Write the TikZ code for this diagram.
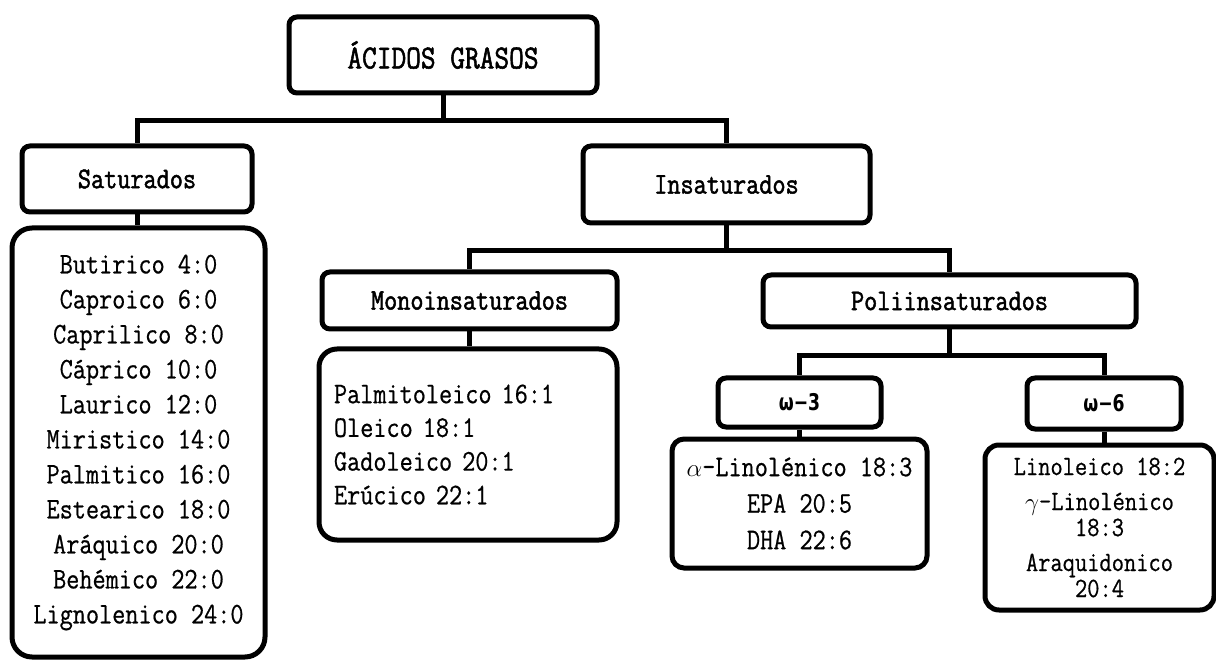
\documentclass[tikz,border=0pt]{standalone}
\usepackage{fontspec}
\newfontfamily\diagfont{Latin Modern Mono}[FakeStretch=0.85, FakeBold=0.6]
\newfontfamily\diagfontb{Latin Modern Mono}[FakeStretch=0.85, FakeBold=1.6]
\newfontfamily\omfont{DejaVu Sans}[FakeStretch=0.75]
\usetikzlibrary{positioning}

\begin{document}
\begin{tikzpicture}[x=1pt,y=-1pt,
  caja/.style={draw, line width=5pt, rounded corners=8pt, inner sep=0pt, font=\diagfontb\fontsize{30}{35}\selectfont},
  lista/.style={caja, rounded corners=20pt, align=center, font=\diagfont\fontsize{30}{35}\selectfont},
  omega/.style={caja, font=\omfont\bfseries\fontsize{23}{26}\selectfont},
  conn/.style={line width=5pt}]
\useasboundingbox (0,0) rectangle (1216,660);
% niveles superiores
\node[caja, minimum width=308pt, minimum height=76pt, font=\diagfontb\fontsize{33.6}{38}\selectfont] (tit) at (443,55) {ÁCIDOS GRASOS};
\node[caja, minimum width=230pt, minimum height=66pt] (sat) at (137,179) {Saturados};
\node[caja, minimum width=287pt, minimum height=77pt] (ins) at (726.5,184.5) {Insaturados};
\node[caja, minimum width=295pt, minimum height=57pt] (mono) at (469.5,300.5) {Monoinsaturados};
\node[caja, minimum width=373pt, minimum height=52pt] (poli) at (949.5,301) {Poliinsaturados};
\node[omega, minimum width=163pt, minimum height=49pt] (om3) at (799.5,402.5) {ω−3};
\node[omega, minimum width=154pt, minimum height=51pt] (om6) at (1104,403.5) {ω−6};
% listas
\node[lista, minimum width=253pt, minimum height=429pt] (satl) at (138.5,442.5) {Butirico 4:0\\Caproico 6:0\\Caprilico 8:0\\Cáprico 10:0\\Laurico 12:0\\Miristico 14:0\\Palmitico 16:0\\Estearico 18:0\\Aráquico 20:0\\Behémico 22:0\\Lignolenico 24:0};
\node[lista, rounded corners=18pt, text width=268pt, inner xsep=15pt, align=left, minimum height=191pt, font=\diagfont\fontsize{30}{33.7}\selectfont] (monol) at (468,444.5) {Palmitoleico 16:1\\Oleico 18:1\\Gadoleico 20:1\\Erúcico 22:1};
\node[lista, rounded corners=12pt, minimum width=255pt, minimum height=129pt, font=\diagfont\fontsize{30}{36.5}\selectfont] (om3l) at (799.5,503.5) {$\alpha$-Linolénico 18:3\\EPA 20:5\\DHA 22:6};
\node[lista, rounded corners=14pt, minimum width=229pt, minimum height=165pt, font=\diagfont\fontsize{28}{26}\selectfont] (om6l) at (1099.5,527.5) {Linoleico 18:2\\[9pt]$\gamma$-Linolénico\\18:3\\[9pt]Araquidonico\\20:4};
% conectores
\draw[conn] (tit.south) -- ++(0,25) -| (sat.north);
\draw[conn] (tit.south) ++(0,25) -| (ins.north);
\draw[conn] (ins.south) -- ++(0,25) -| (mono.north);
\draw[conn] (ins.south) ++(0,25) -| (poli.north);
\draw[conn] (poli.south) -- ++(0,26) -| (om3.north);
\draw[conn] (poli.south) ++(0,26) -| (om6.north);
\draw[conn] (sat.south) -- (sat.south |- satl.north);
\draw[conn] (mono.south) -- (mono.south |- monol.north);
\draw[conn] (om3.south) -- (om3.south |- om3l.north);
\draw[conn] (om6.south) -- (om6.south |- om6l.north);
\end{tikzpicture}
\end{document}
